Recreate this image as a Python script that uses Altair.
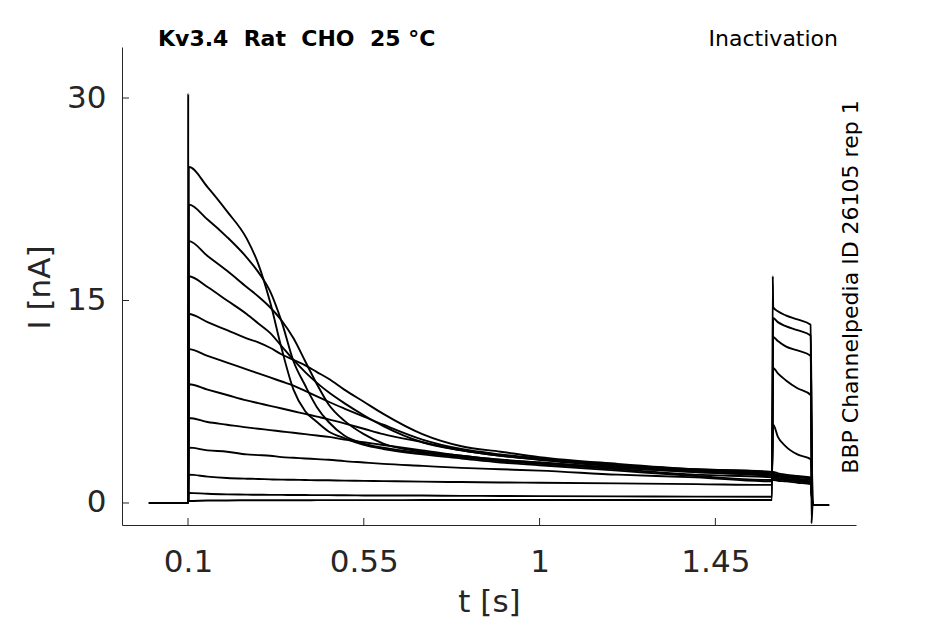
import altair as alt
import pandas as pd

# ---------------- data ----------------
trace_names = ["A", "B", "C", "D", "E", "F", "G", "H", "I", "J", "K", "L"]

# baseline before the step
t_base = [0.0, 0.1]
I_base = [0.0, 0.0]

# prepulse (0.1 s - 1.6 s)
t_pre = [0.102, 0.15, 0.2, 0.25, 0.28, 0.31, 0.34, 0.37, 0.40, 0.43, 0.46,
         0.50, 0.55, 0.60, 0.70, 0.80, 0.90, 1.00, 1.20, 1.40, 1.595]
pre_A = [24.9, 23.4, 21.6, 19.6, 17.7, 14.9, 11.4, 8.4, 6.8, 6.0, 5.3, 4.8, 4.3, 4.0, 3.6, 3.3, 3.0, 2.8, 2.4, 2.0, 1.7]
pre_B = [22.1, 21.0, 19.7, 18.2, 17.1, 15.7, 13.4, 10.5, 8.7, 7.1, 6.0, 5.0, 4.4, 4.1, 3.7, 3.4, 3.1, 2.9, 2.5, 2.1, 1.9]
pre_C = [19.4, 18.3, 17.2, 16.0, 15.3, 14.5, 13.5, 12.2, 10.5, 8.8, 7.3, 6.1, 5.1, 4.4, 3.8, 3.5, 3.2, 3.0, 2.6, 2.3, 2.0]
pre_D = [16.8, 16.0, 15.0, 14.0, 13.3, 12.6, 11.6, 10.6, 9.7, 8.9, 8.2, 7.4, 6.5, 5.7, 4.5, 3.9, 3.5, 3.2, 2.7, 2.4, 2.2]
pre_E = [14.0, 13.4, 12.8, 12.2, 11.9, 11.5, 11.0, 10.6, 10.2, 9.7, 9.2, 8.4, 7.5, 6.6, 5.1, 4.2, 3.8, 3.4, 2.9, 2.5, 2.3]
pre_F = [11.4, 10.9, 10.4, 9.9, 9.6, 9.3, 9.0, 8.7, 8.3, 7.9, 7.5, 7.0, 6.4, 5.8, 4.7, 4.0, 3.6, 3.3, 2.8, 2.5, 2.3]
pre_G = [8.8, 8.4, 8.0, 7.6, 7.4, 7.2, 7.0, 6.8, 6.6, 6.4, 6.2, 5.9, 5.5, 5.1, 4.5, 3.9, 3.5, 3.2, 2.8, 2.4, 2.2]
pre_H = [6.3, 6.0, 5.8, 5.6, 5.5, 5.4, 5.3, 5.2, 5.1, 5.0, 4.9, 4.7, 4.5, 4.3, 3.9, 3.5, 3.2, 3.0, 2.6, 2.3, 2.1]
pre_I = [4.1, 3.9, 3.8, 3.6, 3.55, 3.5, 3.4, 3.35, 3.3, 3.25, 3.2, 3.1, 3.0, 2.9, 2.75, 2.6, 2.5, 2.4, 2.1, 1.9, 1.6]
pre_J = [2.1, 1.95, 1.85, 1.8, 1.78, 1.75, 1.73, 1.72, 1.7, 1.69, 1.68, 1.66, 1.64, 1.62, 1.58, 1.55, 1.52, 1.5, 1.45, 1.4, 1.34]
pre_K = [0.75, 0.68, 0.64, 0.62, 0.61, 0.6, 0.6, 0.59, 0.59, 0.58, 0.58, 0.57, 0.56, 0.56, 0.55, 0.53, 0.52, 0.51, 0.49, 0.47, 0.46]
pre_L = [0.15, 0.18, 0.19, 0.2, 0.2, 0.2, 0.2, 0.2, 0.2, 0.21, 0.21, 0.21, 0.21, 0.21, 0.22, 0.22, 0.22, 0.22, 0.22, 0.22, 0.22]

# test pulse (1.6 s - 1.7 s)
t_test = [1.598, 1.61, 1.63, 1.66, 1.694]
test_A = [1.7, 1.65, 1.6, 1.5, 1.4]
test_B = [1.8, 1.75, 1.7, 1.6, 1.5]
test_C = [1.9, 1.85, 1.8, 1.7, 1.6]
test_D = [2.0, 1.95, 1.9, 1.8, 1.7]
test_E = [2.1, 2.0, 1.95, 1.9, 1.8]
test_F = [2.2, 2.1, 2.0, 1.95, 1.85]
test_G = [2.3, 2.2, 2.1, 2.0, 1.9]
test_H = [5.8, 4.9, 4.2, 3.6, 3.25]
test_I = [10.0, 9.6, 9.1, 8.5, 8.0]
test_J = [12.3, 12.0, 11.6, 11.3, 10.9]
test_K = [13.7, 13.4, 13.1, 12.8, 12.4]
test_L = [14.5, 14.2, 13.9, 13.6, 13.2]

# after the test pulse
t_tail = [1.699, 1.741]
I_tail = [-0.15, -0.15]

# capacitive transients (drawn on trace L)
spike_t = [0.1005, 1.597, 1.696]
spike_I = [30.3, 16.8, -1.5]

x_ticks = [0.1, 0.55, 1, 1.45]
y_ticks = [0, 15, 30]

pre = dict(zip(trace_names, [pre_A, pre_B, pre_C, pre_D, pre_E, pre_F,
                             pre_G, pre_H, pre_I, pre_J, pre_K, pre_L]))
test = dict(zip(trace_names, [test_A, test_B, test_C, test_D, test_E, test_F,
                              test_G, test_H, test_I, test_J, test_K, test_L]))

rows = []
for name in trace_names:
    pts = list(zip(t_base, I_base))
    spike = name == "L"
    if spike:
        pts.append((spike_t[0], spike_I[0]))
    pts += list(zip(t_pre, pre[name]))
    if spike:
        pts.append((spike_t[1], spike_I[1]))
    pts += list(zip(t_test, test[name]))
    if spike:
        pts.append((spike_t[2], spike_I[2]))
    pts += list(zip(t_tail, I_tail))
    for i, (t, v) in enumerate(pts):
        rows.append({"trace": name, "seq": i, "t": t, "I": v})
df = pd.DataFrame(rows)

AX = "#262626"
FONT = "DejaVu Sans"
NB = "\u00a0"
xdom = [-0.069, 1.81]
ydom = [-1.63, 33.78]
W, H = 734, 478

xs = alt.Scale(domain=xdom, nice=False, zero=False)
ys = alt.Scale(domain=ydom, nice=False, zero=False)
axis_style = dict(domainColor=AX, domainWidth=1, labelColor=AX, titleColor=AX,
                  labelFont=FONT, titleFont=FONT, labelFontSize=31,
                  titleFontSize=31, titleFontWeight="normal", grid=False,
                  tickSize=0, labelOverlap=False)
xaxis = alt.Axis(values=x_ticks, format=".3~g", title="t [s]",
                 labelPadding=37, labelBaseline="middle",
                 titleY=77, titleBaseline="middle", **axis_style)
yaxis = alt.Axis(values=y_ticks, format="d", title="I [nA]",
                 labelPadding=16,
                 titleX=-82, titleY=H / 2 + 1, titleBaseline="middle", **axis_style)

lines = alt.Chart(df).mark_line(color="black", strokeWidth=1.9,
                                interpolate="monotone").encode(
    x=alt.X("t:Q", scale=xs, axis=xaxis),
    y=alt.Y("I:Q", scale=ys, axis=yaxis),
    detail="trace:N",
    order="seq:Q",
)

ytick_layer = alt.Chart(pd.DataFrame({"I": y_ticks})).mark_rule(
    color=AX, strokeWidth=1).encode(
    y=alt.Y("I:Q", scale=ys, axis=yaxis), x=alt.value(0), x2=alt.value(7))

xtick_layer = alt.Chart(pd.DataFrame({"t": x_ticks})).mark_rule(
    color=AX, strokeWidth=1).encode(
    x=alt.X("t:Q", scale=xs, axis=xaxis), y=alt.value(H), y2=alt.value(H - 7))

title_left = alt.Chart(pd.DataFrame({"s": ["Kv3.4" + NB * 2 + "Rat" + NB * 2 + "CHO" + NB * 2 + "25" + NB + "°C"]})).mark_text(
    font=FONT, fontSize=22, fontWeight="bold", align="left", baseline="alphabetic",
    color="black").encode(text="s:N", x=alt.value(36), y=alt.value(-1))

title_right = alt.Chart(pd.DataFrame({"s": ["Inactivation"]})).mark_text(
    font=FONT, fontSize=22, align="right", baseline="alphabetic",
    color="black").encode(text="s:N", x=alt.value(716), y=alt.value(-1))

side = alt.Chart(pd.DataFrame({"s": ["BBP Channelpedia ID 26105 rep 1"]})).mark_text(
    font=FONT, fontSize=22, align="center", baseline="alphabetic", angle=270,
    color="black").encode(text="s:N", x=alt.value(736), y=alt.value(240))

chart = alt.layer(lines, ytick_layer, xtick_layer, title_left, title_right, side).properties(
    width=W, height=H,
    background="white",
    padding={"left": 114, "top": 39, "right": 81, "bottom": 99},
    autosize=alt.AutoSizeParams(type="none"),
).configure_view(strokeWidth=0, stroke="transparent")

chart.save("out.html", embed_options={"renderer": "svg", "actions": False})
